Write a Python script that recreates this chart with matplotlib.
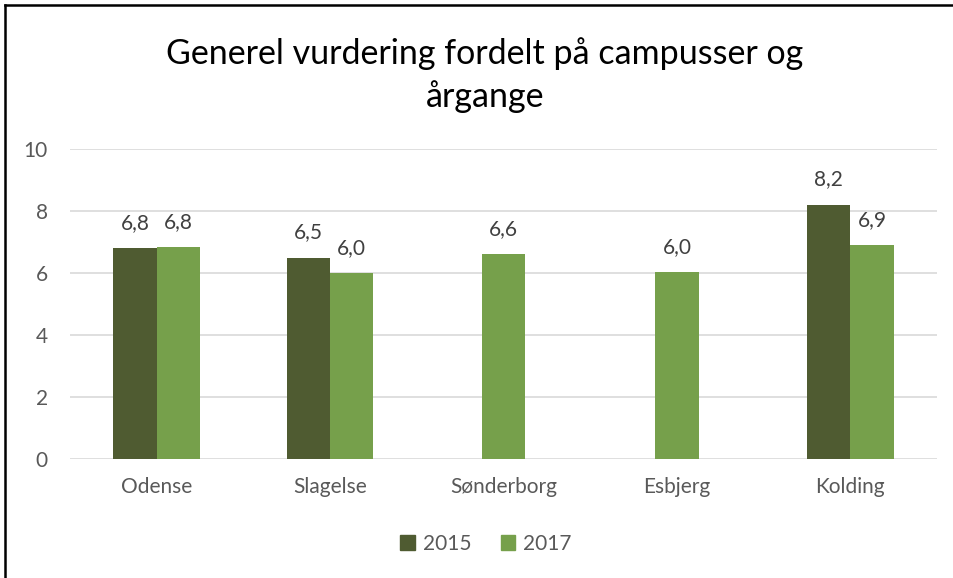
import numpy as np
import matplotlib
matplotlib.use("Agg")
import matplotlib.pyplot as plt
from matplotlib.lines import Line2D

# data
campuses = ["Odense", "Slagelse", "Sønderborg", "Esbjerg", "Kolding"]
values_2015 = [6.8, 6.5, None, None, 8.2]
values_2017 = [6.83, 6.0, 6.6, 6.03, 6.9]
labels_2015 = ["6,8", "6,5", "", "", "8,2"]
labels_2017 = ["6,8", "6,0", "6,6", "6,0", "6,9"]
series_names = ["2015", "2017"]

dark_green = "#4F5B31"
light_green = "#76A04B"
text_grey = "#595959"
fs = 15

plt.rcParams["font.family"] = ["Lato", "DejaVu Sans"]

fig = plt.figure(figsize=(9.54, 5.78), dpi=100)
ax = fig.add_axes([70 / 954, 1 - 459 / 578, 867 / 954, 310 / 578])

bar_w = 0.25
x = np.arange(len(campuses))

def put_label(xpos, val, txt):
    ax.annotate(txt, (xpos, val), xytext=(0, 11), textcoords="offset points",
                ha="center", va="bottom", fontsize=fs, color="#404040")

for i in range(len(campuses)):
    v15 = values_2015[i]
    v17 = values_2017[i]
    if v15 is None:
        # only 2017 present -> centre the bar
        ax.bar(x[i], v17, bar_w, color=light_green)
        put_label(x[i], v17, labels_2017[i])
    else:
        ax.bar(x[i] - bar_w / 2, v15, bar_w, color=dark_green)
        ax.bar(x[i] + bar_w / 2, v17, bar_w, color=light_green)
        put_label(x[i] - bar_w / 2, v15, labels_2015[i])
        put_label(x[i] + bar_w / 2, v17, labels_2017[i])

ax.set_xlim(-0.5, len(campuses) - 0.5)
ax.set_ylim(0, 10)
ax.set_yticks([0, 2, 4, 6, 8, 10])
ax.set_xticks(x)
ax.set_xticklabels(campuses)
ax.tick_params(length=0, labelsize=fs, colors=text_grey)
ax.tick_params(axis="x", pad=13)
ax.tick_params(axis="y", pad=16)
ax.grid(axis="y", color="#D9D9D9", linewidth=1.2)
ax.set_axisbelow(True)
for s in ax.spines.values():
    s.set_visible(False)

fig.text(485 / 954, 1 - 75 / 578, "Generel vurdering fordelt på campusser og\nårgange",
         ha="center", va="center", fontsize=24.5, color="black", linespacing=1.4)

handles = [plt.Rectangle((0, 0), 1, 1, color=dark_green),
           plt.Rectangle((0, 0), 1, 1, color=light_green)]
fig.legend(handles, series_names, loc="center", bbox_to_anchor=(486 / 954, 1 - 544 / 578),
           ncol=2, frameon=False, fontsize=fs, handlelength=0.7, handleheight=0.7,
           handletextpad=0.4, columnspacing=1.4, labelcolor=text_grey)

# chart frame: only top and left edges are visible
fig.add_artist(Line2D([5.5 / 954, 5.5 / 954], [0, 1 - 5 / 578], color="black", linewidth=1.8))
fig.add_artist(Line2D([5.5 / 954, 1], [1 - 5 / 578, 1 - 5 / 578], color="black", linewidth=1.8))

fig.savefig("out.png", dpi=100)
